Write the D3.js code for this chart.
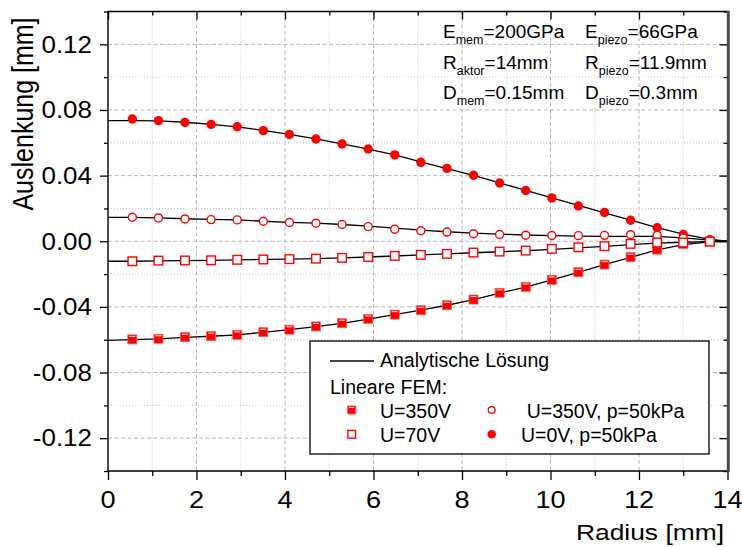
<!DOCTYPE html>
<html>
<head>
<meta charset="utf-8">
<script src="https://cdn.jsdelivr.net/npm/d3@7"></script>
<style>
  html, body { margin: 0; padding: 0; background: #fff; }
  svg { display: block; font-family: "Liberation Sans", Arial, Helvetica, sans-serif; }
</style>
</head>
<body>
<svg id="chart" width="742" height="547"></svg>
<script>
// Radial positions of the FEM nodes [mm]
const radiusFEM = [0.55, 1.14, 1.74, 2.33, 2.92, 3.51, 4.10, 4.70, 5.29, 5.88, 6.48, 7.07,
                   7.66, 8.26, 8.85, 9.44, 10.03, 10.63, 11.22, 11.81, 12.41, 13.00, 13.60];

// Linear FEM deflection [mm]
const femU350 = [-0.0598, -0.0594, -0.0584, -0.0578, -0.0570, -0.0554, -0.0539, -0.0519, -0.0499,
                 -0.0473, -0.0447, -0.0420, -0.0390, -0.0355, -0.0314, -0.0278, -0.0235, -0.0189,
                 -0.0142, -0.0097, -0.0051, -0.0016, -0.0002];
const femU70 = [-0.0122, -0.0118, -0.0117, -0.0116, -0.0113, -0.0111, -0.0109, -0.0106, -0.0101,
                -0.0096, -0.0089, -0.0083, -0.0077, -0.0069, -0.0063, -0.0057, -0.0046, -0.0037,
                -0.0030, -0.0016, -0.0008, -0.0008, -0.0002];
const femU350p50 = [0.0146, 0.0142, 0.0136, 0.0132, 0.0130, 0.0122, 0.0114, 0.0110, 0.0102,
                    0.0089, 0.0073, 0.0064, 0.0056, 0.0046, 0.0041, 0.0037, 0.0035, 0.0034,
                    0.0036, 0.0040, 0.0037, 0.0020, 0.0005];
const femU0p50 = [0.0745, 0.0735, 0.0724, 0.0712, 0.0698, 0.0674, 0.0651, 0.0623, 0.0593,
                  0.0562, 0.0526, 0.0481, 0.0444, 0.0402, 0.0355, 0.0309, 0.0264, 0.0215,
                  0.0175, 0.0128, 0.0082, 0.0041, 0.0009];

// Analytical solution, sampled from the centre (r = 0) to the clamped edge (r = 14 mm)
const radiusAnalytic = [0, 0.55, 1.14, 1.74, 2.33, 2.92, 3.51, 4.10, 4.70, 5.29, 5.88, 6.48, 7.07,
                        7.66, 8.26, 8.85, 9.44, 10.03, 10.63, 11.22, 11.81, 12.41, 13.00, 13.60, 14];
const anaU350 = [-0.0604, -0.0600, -0.0595, -0.0586, -0.0579, -0.0570, -0.0555, -0.0539, -0.0520,
                 -0.0500, -0.0474, -0.0447, -0.0420, -0.0390, -0.0356, -0.0316, -0.0279, -0.0236,
                 -0.0190, -0.0143, -0.0098, -0.0053, -0.0020, -0.0004, 0];
const anaU70 = [-0.0122, -0.0122, -0.0120, -0.0118, -0.0117, -0.0114, -0.0111, -0.0109, -0.0106,
                -0.0101, -0.0096, -0.0090, -0.0083, -0.0077, -0.0070, -0.0064, -0.0058, -0.0049,
                -0.0040, -0.0031, -0.0020, -0.0011, -0.0006, -0.0002, 0];
const anaU350p50 = [0.0146, 0.0146, 0.0143, 0.0137, 0.0133, 0.0130, 0.0122, 0.0115, 0.0110,
                    0.0102, 0.0092, 0.0080, 0.0068, 0.0058, 0.0049, 0.0043, 0.0038, 0.0034,
                    0.0031, 0.0030, 0.0030, 0.0030, 0.0020, 0.0007, 0];
const anaU0p50 = [0.0735, 0.0735, 0.0733, 0.0725, 0.0712, 0.0697, 0.0675, 0.0651, 0.0624,
                  0.0594, 0.0562, 0.0526, 0.0483, 0.0443, 0.0402, 0.0356, 0.0310, 0.0264,
                  0.0218, 0.0173, 0.0128, 0.0083, 0.0044, 0.0012, 0];

// Axis ticks
const xMajorTicks = [0, 2, 4, 6, 8, 10, 12, 14];
const xMinorTicks = [1, 3, 5, 7, 9, 11, 13];
const yMajorTicks = [-0.12, -0.08, -0.04, 0, 0.04, 0.08, 0.12];
const yMinorTicks = [-0.14, -0.10, -0.06, -0.02, 0.02, 0.06, 0.10, 0.14];

// Legend and parameter labels
const legendLine = "Analytische Lösung";
const legendHeader = "Lineare FEM:";
const seriesNames = ["U=350V", "U=70V", "U=350V, p=50kPa", "U=0V, p=50kPa"];
const params = [
  [["E", "mem", "=200GPa"], ["E", "piezo", "=66GPa"]],
  [["R", "aktor", "=14mm"], ["R", "piezo", "=11.9mm"]],
  [["D", "mem", "=0.15mm"], ["D", "piezo", "=0.3mm"]]
];

const RED = "#ff0000";
const svg = d3.select("#chart");
const plot = { left: 108, right: 727.5, top: 11.5, bottom: 471 };

const x = d3.scaleLinear().domain([0, 14]).range([plot.left, plot.right]);
const y = d3.scaleLinear().domain([-0.14, 0.14]).range([plot.bottom, plot.top]);

// text helper with optional horizontal stretch and rotation
function label(parent, px, py, str, o) {
  return parent.append("text")
    .attr("transform", `translate(${px},${py}) scale(${o.sx || 1},1)` + (o.rot ? ` rotate(${o.rot})` : ""))
    .attr("text-anchor", o.anchor || "start")
    .attr("font-size", o.size)
    .attr("fill", "#000")
    .text(str);
}

// grid
const grid = svg.append("g");
grid.selectAll("line.gxM").data(xMajorTicks.filter(d => d > 0 && d < 14)).join("line")
  .attr("x1", d => x(d)).attr("x2", d => x(d)).attr("y1", plot.top).attr("y2", plot.bottom)
  .attr("stroke", "#b8b8b8").attr("stroke-width", 1).attr("stroke-dasharray", "4,2.5");
grid.selectAll("line.gxm").data(xMinorTicks).join("line")
  .attr("x1", d => x(d)).attr("x2", d => x(d)).attr("y1", plot.top).attr("y2", plot.bottom)
  .attr("stroke", "#c4c4c4").attr("stroke-width", 1).attr("stroke-dasharray", "1,2");
grid.selectAll("line.gyM").data(yMajorTicks).join("line")
  .attr("y1", d => y(d)).attr("y2", d => y(d)).attr("x1", plot.left).attr("x2", plot.right)
  .attr("stroke", "#b8b8b8").attr("stroke-width", 1).attr("stroke-dasharray", "4,2.5");
grid.selectAll("line.gym").data(yMinorTicks.filter(d => Math.abs(d) < 0.14)).join("line")
  .attr("y1", d => y(d)).attr("y2", d => y(d)).attr("x1", plot.left).attr("x2", plot.right)
  .attr("stroke", "#c4c4c4").attr("stroke-width", 1).attr("stroke-dasharray", "1,2");

// analytical curves
const line = d3.line().x(d => x(d[0])).y(d => y(d[1]));
[anaU350, anaU70, anaU350p50, anaU0p50].forEach(vals => {
  svg.append("path")
    .datum(radiusAnalytic.map((r, i) => [r, vals[i]]))
    .attr("d", line)
    .attr("fill", "none").attr("stroke", "#000").attr("stroke-width", 1.3);
});

// marker drawing
function drawMarker(g, kind, cx, cy, s) {
  s = s || 1;
  if (kind === "filledCircle") {
    g.append("circle").attr("cx", cx).attr("cy", cy).attr("r", 4.7 * s).attr("fill", RED);
  } else if (kind === "openCircle") {
    g.append("circle").attr("cx", cx).attr("cy", cy).attr("r", 4.0 * s)
      .attr("fill", "#fff").attr("stroke", RED).attr("stroke-width", 1.4);
  } else if (kind === "filledSquare") {
    const h = 4.5 * s;
    g.append("rect").attr("x", cx - h).attr("y", cy - h).attr("width", 2 * h).attr("height", 2 * h)
      .attr("fill", RED).attr("stroke", "#ff5a5a").attr("stroke-width", 0.8);
    g.append("line").attr("x1", cx - h + 1.5).attr("x2", cx + h - 1.5)
      .attr("y1", cy - h + 1.6).attr("y2", cy - h + 1.6)
      .attr("stroke", "#fff").attr("stroke-width", 0.9);
  } else if (kind === "openSquare") {
    const h = 4.3 * s;
    g.append("rect").attr("x", cx - h).attr("y", cy - h).attr("width", 2 * h).attr("height", 2 * h)
      .attr("fill", "#fff").attr("stroke", RED).attr("stroke-width", 1.4);
  }
}

// FEM markers
const fem = [
  { vals: femU0p50, kind: "filledCircle" },
  { vals: femU350p50, kind: "openCircle" },
  { vals: femU350, kind: "filledSquare" },
  { vals: femU70, kind: "openSquare" }
];
fem.forEach(sr => {
  const g = svg.append("g");
  radiusFEM.forEach((r, i) => drawMarker(g, sr.kind, x(r), y(sr.vals[i])));
});

// axes (ticks only; the frame is drawn separately)
function styleAxis(g) {
  g.select(".domain").remove();
  g.selectAll(".tick line").attr("stroke", "#000").attr("stroke-width", 1.3);
  g.selectAll(".tick text").remove();
}
svg.append("g").attr("transform", `translate(0,${plot.bottom})`)
  .call(d3.axisBottom(x).tickValues(xMajorTicks).tickSize(9).tickFormat("")).call(styleAxis);
svg.append("g").attr("transform", `translate(0,${plot.bottom})`)
  .call(d3.axisBottom(x).tickValues(xMinorTicks).tickSize(5).tickFormat("")).call(styleAxis);
svg.append("g").attr("transform", `translate(0,${plot.top})`)
  .call(d3.axisTop(x).tickValues(xMajorTicks).tickSize(-8).tickFormat("")).call(styleAxis);
svg.append("g").attr("transform", `translate(0,${plot.top})`)
  .call(d3.axisTop(x).tickValues(xMinorTicks).tickSize(-4).tickFormat("")).call(styleAxis);
svg.append("g").attr("transform", `translate(${plot.left},0)`)
  .call(d3.axisLeft(y).tickValues(yMajorTicks).tickSize(8).tickFormat("")).call(styleAxis);
svg.append("g").attr("transform", `translate(${plot.left},0)`)
  .call(d3.axisLeft(y).tickValues(yMinorTicks).tickSize(4).tickFormat("")).call(styleAxis);
svg.append("g").attr("transform", `translate(${plot.right},0)`)
  .call(d3.axisRight(y).tickValues(yMajorTicks).tickSize(-8).tickFormat("")).call(styleAxis);
svg.append("g").attr("transform", `translate(${plot.right},0)`)
  .call(d3.axisRight(y).tickValues(yMinorTicks).tickSize(-4).tickFormat("")).call(styleAxis);

// frame
svg.append("path")
  .attr("d", `M${plot.right},${plot.top}H${plot.left}V${plot.bottom}H${plot.right}`)
  .attr("fill", "none").attr("stroke", "#000").attr("stroke-width", 1.4);
svg.append("line")
  .attr("x1", plot.right + 0.8).attr("x2", plot.right + 0.8)
  .attr("y1", plot.top - 0.7).attr("y2", plot.bottom + 0.7)
  .attr("stroke", "#4a4a4a").attr("stroke-width", 3);

// tick labels
xMajorTicks.forEach(d => label(svg, x(d), 507.5, String(d), { size: 24, sx: 1.13, anchor: "middle" }));
yMajorTicks.forEach(d => label(svg, 92, y(d) + 8.3, d.toFixed(2), { size: 23, sx: 1.13, anchor: "end" }));

// axis titles
label(svg, 724, 540, "Radius [mm]", { size: 22, sx: 1.2, anchor: "end" });
label(svg, 33, 114, "Auslenkung [mm]", { size: 25, sx: 1.15, anchor: "middle", rot: -90 });

// parameter block
const colX = [443, 585];
const rowY = [37.5, 68.5, 98.5];
params.forEach((row, ri) => {
  row.forEach((p, ci) => {
    const t = svg.append("text").attr("x", colX[ci]).attr("y", rowY[ri]).attr("font-size", 19);
    t.append("tspan").text(p[0]);
    t.append("tspan").attr("font-size", 12.5).attr("dy", 6).text(p[1]);
    t.append("tspan").attr("font-size", 19).attr("dy", -6).text(p[2]);
  });
});

// legend
const lg = svg.append("g");
lg.append("rect").attr("x", 310).attr("y", 341).attr("width", 399).attr("height", 113)
  .attr("fill", "#fff").attr("stroke", "#000").attr("stroke-width", 1.3);
lg.append("line").attr("x1", 330).attr("x2", 374).attr("y1", 361).attr("y2", 361)
  .attr("stroke", "#000").attr("stroke-width", 1.3);
label(lg, 380, 367, legendLine, { size: 19.5 });
label(lg, 330, 393.5, legendHeader, { size: 19.5 });
const legendItems = [
  { kind: "filledSquare", mx: 351.7, my: 410, tx: 380, ty: 417.5, name: seriesNames[0] },
  { kind: "openSquare", mx: 351.7, my: 434.3, tx: 380, ty: 441.5, name: seriesNames[1] },
  { kind: "openCircle", mx: 491.7, my: 410, tx: 526.7, ty: 417.5, name: seriesNames[2] },
  { kind: "filledCircle", mx: 491.7, my: 434.3, tx: 521, ty: 441.5, name: seriesNames[3] }
];
legendItems.forEach(it => {
  drawMarker(lg, it.kind, it.mx, it.my, it.kind === "openCircle" ? 0.85 : 0.9);
  label(lg, it.tx, it.ty, it.name, { size: 19.5 });
});
</script>
</body>
</html>
